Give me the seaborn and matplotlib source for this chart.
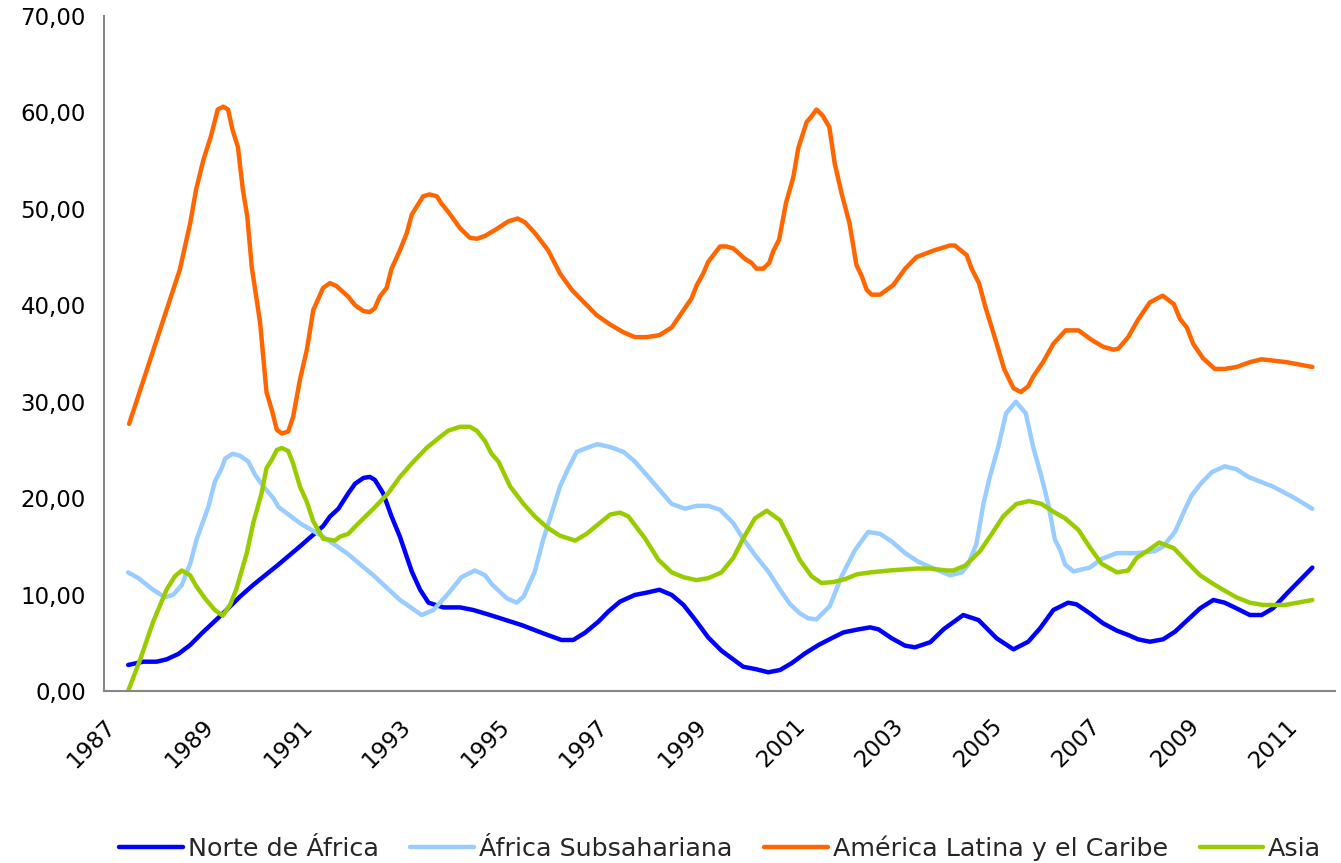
import pandas as pd
import matplotlib
matplotlib.use("Agg")
from matplotlib import pyplot
import matplotlib.ticker as ticker
import seaborn as sns

# values (fractional year, value)
norte_x = [1987.49, 1987.80, 1988.07, 1988.27, 1988.51, 1988.75, 1989.02, 1989.42, 1989.76, 1990.03,
           1990.54, 1990.98, 1991.45, 1991.59, 1991.76, 1991.96, 1992.10, 1992.27, 1992.40, 1992.50,
           1992.67, 1992.84, 1993.01, 1993.25, 1993.42, 1993.59, 1993.89, 1994.23, 1994.50, 1994.84,
           1995.48, 1995.92, 1996.29, 1996.53, 1996.77, 1997.04, 1997.24, 1997.48, 1997.78, 1998.02,
           1998.28, 1998.53, 1998.77, 1999.00, 1999.27, 1999.54, 1999.98, 2000.25, 2000.49, 2000.73,
           2000.96, 2001.24, 2001.51, 2001.81, 2002.02, 2002.32, 2002.56, 2002.73, 2003.00, 2003.27,
           2003.47, 2003.78, 2004.05, 2004.45, 2004.76, 2005.13, 2005.47, 2005.77, 2006.01, 2006.28,
           2006.58, 2006.75, 2007.02, 2007.29, 2007.57, 2007.80, 2008.00, 2008.24, 2008.51, 2008.75,
           2008.99, 2009.26, 2009.53, 2009.76, 2010.00, 2010.27, 2010.51, 2010.74, 2011.02, 2011.29,
           2011.54]
norte_y = [2.70, 3.04, 3.04, 3.28, 3.84, 4.77, 6.15, 8.06, 9.78, 11.0,
           13.1, 15.0, 17.1, 18.1, 18.9, 20.5, 21.5, 22.1, 22.2, 21.9,
           20.5, 18.1, 16.0, 12.4, 10.5, 9.16, 8.67, 8.67, 8.40, 7.88,
           6.84, 5.98, 5.29, 5.29, 6.05, 7.19, 8.23, 9.27, 9.96, 10.2,
           10.5, 9.96, 8.92, 7.43, 5.56, 4.18, 2.52, 2.25, 1.94, 2.18,
           2.87, 3.91, 4.77, 5.56, 6.08, 6.39, 6.60, 6.39, 5.46, 4.70,
           4.53, 5.06, 6.40, 7.88, 7.36, 5.46, 4.32, 5.11, 6.50, 8.40,
           9.16, 8.99, 8.06, 7.02, 6.26, 5.81, 5.36, 5.11, 5.36, 6.15,
           7.29, 8.57, 9.44, 9.16, 8.57, 7.88, 7.88, 8.57, 10.1, 11.5,
           12.8]

subsa_x = [1987.49, 1987.70, 1987.97, 1988.24, 1988.41, 1988.58, 1988.75, 1988.88, 1989.12, 1989.25,
           1989.39, 1989.46, 1989.61, 1989.76, 1989.93, 1990.07, 1990.24, 1990.44, 1990.54, 1990.98,
           1991.45, 1991.93, 1992.47, 1993.01, 1993.45, 1993.69, 1993.99, 1994.26, 1994.53, 1994.74,
           1994.87, 1995.18, 1995.38, 1995.52, 1995.75, 1995.92, 1996.12, 1996.26, 1996.43, 1996.60,
           1996.80, 1997.02, 1997.28, 1997.55, 1997.78, 1998.02, 1998.29, 1998.53, 1998.80, 1999.03,
           1999.27, 1999.51, 1999.78, 1999.98, 2000.22, 2000.49, 2000.73, 2000.93, 2001.13, 2001.30,
           2001.47, 2001.74, 2001.98, 2002.25, 2002.52, 2002.76, 2003.00, 2003.27, 2003.54, 2003.81,
           2004.18, 2004.42, 2004.55, 2004.72, 2004.86, 2004.99, 2005.16, 2005.32, 2005.52, 2005.72,
           2005.87, 2006.04, 2006.18, 2006.31, 2006.42, 2006.52, 2006.69, 2007.02, 2007.26, 2007.57,
           2007.97, 2008.34, 2008.51, 2008.75, 2008.95, 2009.09, 2009.29, 2009.50, 2009.76, 2010.00,
           2010.24, 2010.74, 2011.15, 2011.54]
subsa_y = [12.3, 11.7, 10.6, 9.71, 10.0, 11.0, 13.2, 15.7, 19.1, 21.7,
           23.1, 24.1, 24.6, 24.4, 23.8, 22.4, 21.2, 20.0, 19.1, 17.4,
           16.0, 14.3, 12.0, 9.44, 7.88, 8.40, 10.1, 11.8, 12.5, 12.0,
           11.1, 9.61, 9.16, 9.78, 12.4, 15.7, 18.9, 21.2, 23.1, 24.8,
           25.2, 25.6, 25.3, 24.8, 23.8, 22.4, 20.8, 19.4, 18.9, 19.2,
           19.2, 18.8, 17.4, 15.8, 14.1, 12.4, 10.5, 9.02, 8.06, 7.54,
           7.43, 8.81, 11.9, 14.6, 16.5, 16.3, 15.5, 14.3, 13.4, 12.8,
           12.0, 12.3, 13.1, 15.3, 19.4, 22.2, 25.3, 28.8, 30.0, 28.8,
           25.3, 22.2, 19.3, 15.7, 14.6, 13.1, 12.4, 12.8, 13.7, 14.3,
           14.3, 14.5, 15.0, 16.5, 18.8, 20.3, 21.6, 22.7, 23.3, 23.0,
           22.2, 21.2, 20.1, 18.9]

latam_x = [1987.51, 1988.54, 1988.75, 1988.87, 1989.02, 1989.17, 1989.31, 1989.42, 1989.52, 1989.61,
           1989.72, 1989.82, 1989.91, 1990.00, 1990.17, 1990.24, 1990.30, 1990.41, 1990.51, 1990.61,
           1990.74, 1990.84, 1990.98, 1991.12, 1991.25, 1991.45, 1991.59, 1991.72, 1991.96, 1992.10,
           1992.27, 1992.40, 1992.50, 1992.60, 1992.74, 1992.84, 1993.01, 1993.15, 1993.25, 1993.48,
           1993.61, 1993.76, 1993.86, 1993.99, 1994.23, 1994.43, 1994.57, 1994.74, 1994.97, 1995.21,
           1995.40, 1995.55, 1995.75, 1996.02, 1996.26, 1996.50, 1996.73, 1997.00, 1997.28, 1997.55,
           1997.78, 1998.02, 1998.28, 1998.53, 1998.77, 1998.93, 1999.04, 1999.17, 1999.27, 1999.51,
           1999.64, 1999.78, 2000.02, 2000.15, 2000.25, 2000.39, 2000.51, 2000.59, 2000.71, 2000.85,
           2001.00, 2001.10, 2001.27, 2001.37, 2001.47, 2001.59, 2001.73, 2001.84, 2001.98, 2002.14,
           2002.28, 2002.39, 2002.49, 2002.59, 2002.76, 2003.03, 2003.27, 2003.50, 2003.86, 2004.18,
           2004.28, 2004.52, 2004.62, 2004.77, 2004.89, 2005.13, 2005.28, 2005.47, 2005.62, 2005.77,
           2005.87, 2006.07, 2006.28, 2006.53, 2006.79, 2007.06, 2007.29, 2007.50, 2007.60, 2007.80,
           2008.00, 2008.24, 2008.50, 2008.73, 2008.85, 2008.99, 2009.12, 2009.32, 2009.56, 2009.76,
           2010.00, 2010.27, 2010.51, 2011.02, 2011.54]
latam_y = [27.7, 43.7, 48.5, 52.0, 55.1, 57.5, 60.3, 60.6, 60.3, 58.2,
           56.4, 52.0, 49.2, 44.0, 38.2, 34.3, 31.0, 29.1, 27.1, 26.7,
           26.9, 28.4, 32.3, 35.4, 39.5, 41.8, 42.3, 42.0, 40.9, 40.0,
           39.4, 39.3, 39.7, 40.9, 41.8, 43.8, 45.7, 47.5, 49.4, 51.3,
           51.5, 51.3, 50.5, 49.7, 48.0, 47.0, 46.9, 47.2, 47.9, 48.7,
           49.0, 48.6, 47.5, 45.7, 43.3, 41.6, 40.4, 39.0, 38.0, 37.2,
           36.7, 36.7, 36.9, 37.7, 39.5, 40.7, 42.1, 43.3, 44.5, 46.1,
           46.1, 45.9, 44.8, 44.4, 43.8, 43.8, 44.4, 45.6, 46.8, 50.6,
           53.3, 56.3, 59.0, 59.6, 60.3, 59.7, 58.5, 54.7, 51.6, 48.5,
           44.2, 43.0, 41.6, 41.1, 41.1, 42.1, 43.8, 45.0, 45.7, 46.2,
           46.2, 45.2, 43.8, 42.3, 40.0, 36.0, 33.4, 31.4, 31.0, 31.6,
           32.6, 34.1, 36.0, 37.4, 37.4, 36.4, 35.7, 35.4, 35.5, 36.7,
           38.5, 40.3, 41.0, 40.1, 38.6, 37.7, 36.0, 34.5, 33.4, 33.4,
           33.6, 34.1, 34.4, 34.1, 33.6]

asia_x = [1987.49, 1987.73, 1988.00, 1988.27, 1988.44, 1988.58, 1988.75, 1988.87, 1989.05, 1989.25,
          1989.41, 1989.56, 1989.69, 1989.90, 1990.03, 1990.20, 1990.30, 1990.41, 1990.51, 1990.61,
          1990.74, 1990.84, 1990.98, 1991.12, 1991.25, 1991.45, 1991.69, 1991.79, 1991.96, 1992.13,
          1992.47, 1992.77, 1993.01, 1993.25, 1993.55, 1993.79, 1993.99, 1994.23, 1994.43, 1994.57,
          1994.74, 1994.87, 1995.01, 1995.25, 1995.52, 1995.75, 1995.99, 1996.26, 1996.57, 1996.80,
          1997.04, 1997.28, 1997.48, 1997.65, 1997.99, 1998.26, 1998.53, 1998.77, 1999.03, 1999.27,
          1999.54, 1999.78, 1999.98, 2000.22, 2000.46, 2000.73, 2000.93, 2001.13, 2001.37, 2001.57,
          2001.81, 2002.05, 2002.29, 2002.56, 2002.96, 2003.50, 2003.77, 2004.11, 2004.25, 2004.49,
          2004.79, 2005.03, 2005.26, 2005.53, 2005.79, 2006.04, 2006.28, 2006.52, 2006.79, 2007.02,
          2007.26, 2007.57, 2007.80, 2007.97, 2008.21, 2008.43, 2008.73, 2008.99, 2009.26, 2009.53,
          2009.76, 2010.00, 2010.27, 2010.54, 2010.98, 2011.54]
asia_y = [0.0, 3.2, 7.2, 10.5, 11.9, 12.5, 12.0, 10.9, 9.61, 8.40,
          7.81, 8.92, 10.6, 14.3, 17.4, 20.5, 23.1, 24.0, 25.0, 25.2,
          24.9, 23.6, 21.2, 19.6, 17.6, 15.8, 15.6, 16.0, 16.3, 17.2,
          18.9, 20.5, 22.2, 23.6, 25.2, 26.2, 27.0, 27.4, 27.4, 27.0,
          25.9, 24.6, 23.8, 21.2, 19.4, 18.1, 17.0, 16.1, 15.6, 16.3,
          17.3, 18.3, 18.5, 18.1, 15.8, 13.6, 12.3, 11.8, 11.5, 11.7,
          12.3, 13.8, 15.8, 17.9, 18.7, 17.7, 15.7, 13.6, 11.9, 11.2,
          11.3, 11.6, 12.1, 12.3, 12.5, 12.7, 12.7, 12.5, 12.5, 13.0,
          14.5, 16.3, 18.1, 19.4, 19.7, 19.4, 18.6, 17.9, 16.7, 14.9,
          13.2, 12.3, 12.5, 13.8, 14.6, 15.4, 14.8, 13.4, 12.0, 11.1,
          10.4, 9.71, 9.16, 8.92, 8.92, 9.44]

series_names = ['Norte de África', 'África Subsahariana', 'América Latina y el Caribe', 'Asia']
series_colors = ['#0000FF', '#99CCFF', '#FF6600', '#99CC00']
year_ticks = list(range(1987, 2013))
year_labels = [str(y) if y % 2 == 1 and y < 2012 else '' for y in year_ticks]


def BuildFrame():
	parts = []
	for name, xs, ys in zip(series_names,
							[norte_x, subsa_x, latam_x, asia_x],
							[norte_y, subsa_y, latam_y, asia_y]):
		parts.append(pd.DataFrame({'year': xs, 'value': ys, 'region': name}))
	return pd.concat(parts, ignore_index=True)


df = BuildFrame()

sns.set_theme(style="white")
pyplot.rcParams['font.family'] = ['DejaVu Sans']

fig = pyplot.figure(figsize=(13.41, 8.63), dpi=100)
ax = fig.add_axes([104 / 1341, 1 - 691 / 863, 1231 / 1341, 675 / 863])

sns.lineplot(data=df, x='year', y='value', hue='region', hue_order=series_names,
			 palette=series_colors, estimator=None, sort=True, linewidth=3.2, ax=ax)

ax.set_xlim(1987, 2012)
ax.set_ylim(0, 70)
ax.set_xlabel('')
ax.set_ylabel('')

ax.yaxis.set_major_locator(ticker.MultipleLocator(10))
ax.yaxis.set_major_formatter(ticker.FuncFormatter(lambda v, p: '{:.2f}'.format(v).replace('.', ',')))
ax.xaxis.set_major_locator(ticker.FixedLocator(year_ticks))
ax.xaxis.set_major_formatter(ticker.FixedFormatter(year_labels))

sns.despine(ax=ax)
for side in ['left', 'bottom']:
	ax.spines[side].set_color('#868686')
	ax.spines[side].set_linewidth(1.5)

ax.tick_params(axis='both', which='major', direction='out', length=7, width=1.2,
			   color='#555555', labelsize=17, labelcolor='black')
ax.tick_params(axis='y', labelsize=16.5, pad=6)
ax.tick_params(axis='x', labelsize=16.5, pad=10)
for lbl in ax.get_xticklabels():
	lbl.set_rotation(45)
	lbl.set_horizontalalignment('right')
	lbl.set_verticalalignment('top')
	lbl.set_rotation_mode('anchor')

ax.legend_.remove()
handles, labels = ax.get_legend_handles_labels()
fig.legend(handles, labels, loc='lower center', bbox_to_anchor=(0.537, -0.024), ncol=4,
		   frameon=False, fontsize=18.3, handlelength=2.5, handletextpad=0.2,
		   columnspacing=1.25)

pyplot.savefig('out.png', dpi=100)
